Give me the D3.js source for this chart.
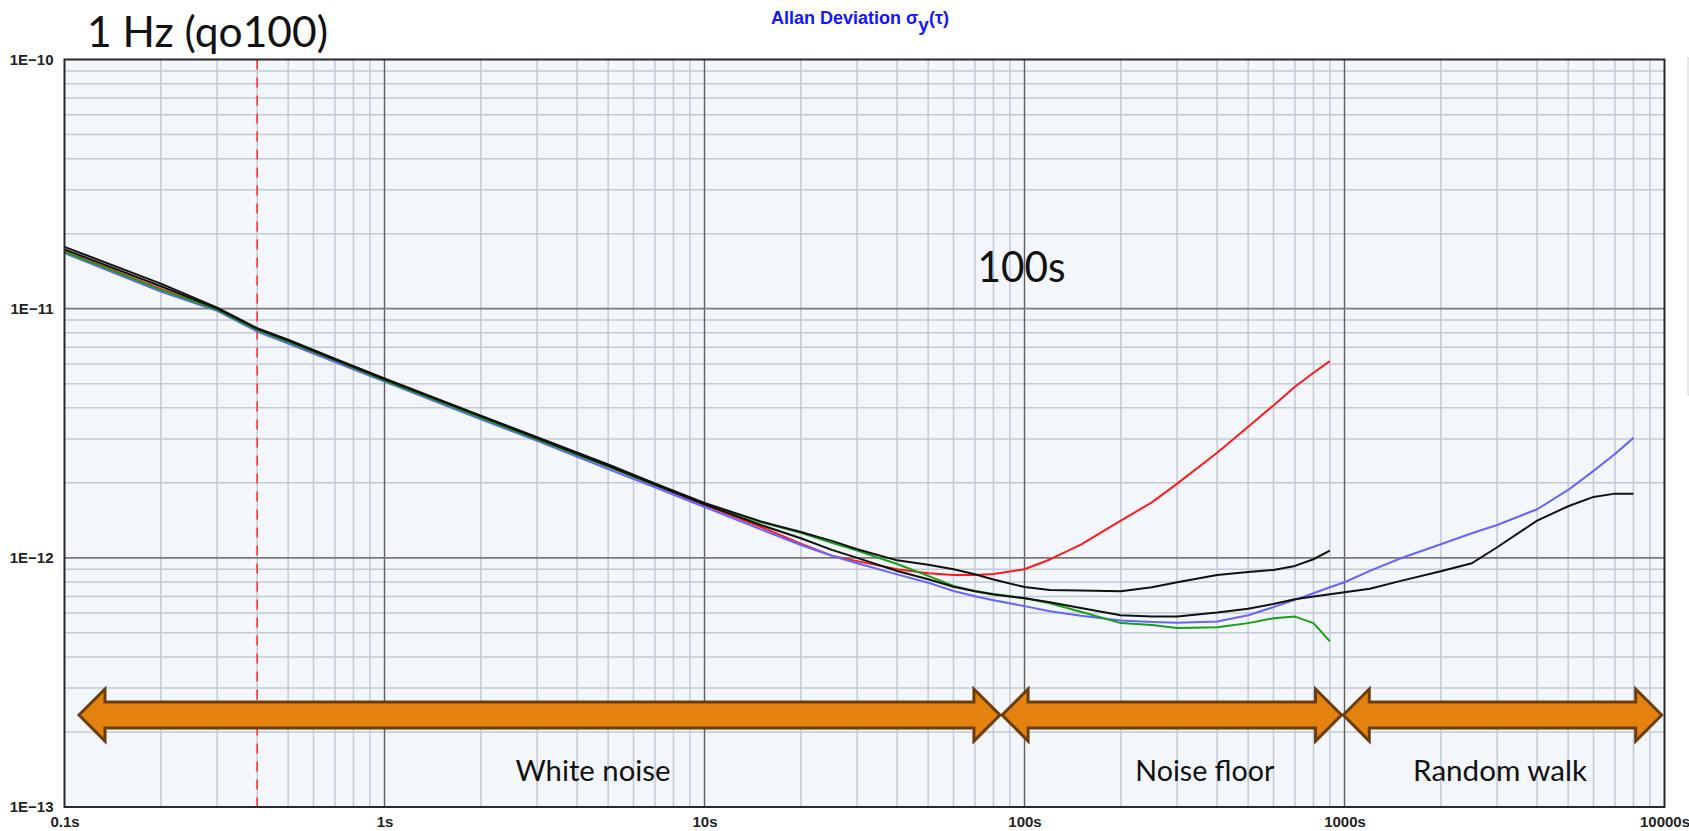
<!DOCTYPE html>
<html><head><meta charset="utf-8">
<script src="https://cdn.jsdelivr.net/npm/d3@7"></script>
<style>
html,body{margin:0;padding:0;background:#fff;overflow:hidden;}
</style></head><body>
<svg id="chart" width="1689" height="831"></svg>
<script>
// ---------- data ----------
const tausShort = [0.1,0.2,0.3,0.4,0.5,0.7,1,2,3,5,7,10,15,20,25,30,40,50,60,70,80,100,120,150,200,250,300,400,500,600,700,800,900];
const tausLong = tausShort.concat([1000,1200,1500,2000,2500,3000,4000,5000,6000,7000,8000]);

const sigmaRed = [1.70e-11,1.20e-11,9.9e-12,8.2e-12,7.35e-12,6.2e-12,5.15e-12,3.68e-12,3.0e-12,2.33e-12,1.96e-12,1.63e-12,1.33e-12,1.14e-12,1.02e-12,9.7e-13,9.0e-13,8.67e-13,8.54e-13,8.54e-13,8.62e-13,9.0e-13,9.85e-13,1.13e-12,1.41e-12,1.67e-12,1.985e-12,2.64e-12,3.36e-12,4.09e-12,4.86e-12,5.53e-12,6.16e-12];
const sigmaBlackA = [1.77e-11,1.26e-11,1.01e-11,8.35e-12,7.5e-12,6.3e-12,5.25e-12,3.72e-12,3.05e-12,2.37e-12,1.99e-12,1.66e-12,1.40e-12,1.27e-12,1.17e-12,1.083e-12,9.77e-13,9.39e-13,9.0e-13,8.59e-13,8.18e-13,7.64e-13,7.43e-13,7.39e-13,7.34e-13,7.62e-13,7.98e-13,8.54e-13,8.78e-13,8.94e-13,9.28e-13,9.87e-13,1.069e-12];
const sigmaGreen = [1.69e-11,1.19e-11,9.9e-12,8.2e-12,7.35e-12,6.2e-12,5.15e-12,3.65e-12,2.98e-12,2.32e-12,1.96e-12,1.65e-12,1.39e-12,1.26e-12,1.148e-12,1.069e-12,9.45e-13,8.46e-13,7.71e-13,7.36e-13,7.16e-13,6.9e-13,6.57e-13,6.08e-13,5.47e-13,5.38e-13,5.23e-13,5.27e-13,5.47e-13,5.72e-13,5.81e-13,5.47e-13,4.62e-13];
const sigmaBlue = [1.67e-11,1.17e-11,9.8e-12,8.1e-12,7.25e-12,6.1e-12,5.1e-12,3.6e-12,2.95e-12,2.27e-12,1.92e-12,1.6e-12,1.30e-12,1.126e-12,1.02e-12,9.51e-13,8.58e-13,7.95e-13,7.36e-13,7.01e-13,6.76e-13,6.4e-13,6.1e-13,5.85e-13,5.6e-13,5.53e-13,5.49e-13,5.55e-13,5.88e-13,6.34e-13,6.78e-13,7.21e-13,7.62e-13,7.98e-13,8.86e-13,9.96e-13,1.134e-12,1.255e-12,1.355e-12,1.567e-12,1.873e-12,2.233e-12,2.61e-12,3.03e-12];
const sigmaBlackB = [1.73e-11,1.23e-11,1.0e-11,8.3e-12,7.45e-12,6.25e-12,5.2e-12,3.7e-12,3.02e-12,2.34e-12,1.97e-12,1.64e-12,1.355e-12,1.198e-12,1.076e-12,1.0e-12,8.86e-13,8.21e-13,7.66e-13,7.35e-13,7.12e-13,6.89e-13,6.64e-13,6.29e-13,5.88e-13,5.81e-13,5.81e-13,6.03e-13,6.25e-13,6.53e-13,6.82e-13,6.99e-13,7.14e-13,7.28e-13,7.52e-13,8.08e-13,8.84e-13,9.51e-13,1.103e-12,1.41e-12,1.611e-12,1.756e-12,1.81e-12,1.81e-12];

const xTickValues = [0.1,1,10,100,1000,10000];
const xTickLabels = ["0.1s","1s","10s","100s","1000s","10000s"];
const yTickValues = [1e-10,1e-11,1e-12,1e-13];
const yTickLabels = ["1E\u221210","1E\u221211","1E\u221212","1E\u221213"];

const markerTau = 0.4;
const regionNames = ["White noise","Noise floor","Random walk"];
const regionFrom = [0.111, 85.1, 991];
const regionTo = [83.8, 979, 9800];
const regionLabelTau = [4.48, 366, 3063];
const arrowSigma = 2.34e-13;
const regionLabelSigma = 1.27e-13;
const noteText = "100s";
const noteTau = 97.9;
const noteSigma = 1.28e-11;
const chartTitle = "1 Hz (qo100)";

// ---------- layout ----------
const svg = d3.select("#chart");
const L = 64.5, R = 1664.5, T = 59.5, B = 807;
const x = d3.scaleLog().domain([0.1, 10000]).range([L, R]);
const y = d3.scaleLog().domain([1e-13, 1e-10]).range([B, T]);

// legend box edge (cut off at right)
svg.append("rect").attr("x",1688).attr("y",58).attr("width",30).attr("height",337)
  .attr("fill","#fff").attr("stroke","#cfcfcf").attr("stroke-width",1);

// plot background
svg.append("rect").attr("x",L).attr("y",T).attr("width",R-L).attr("height",B-T).attr("fill","#f3f6fb");

// minor grid
const xMinor = [], yMinor = [];
[0.1,1,10,100,1000].forEach(d => { for (let k=2;k<=9;k++) xMinor.push(d*k); });
[1e-13,1e-12,1e-11].forEach(d => { for (let k=2;k<=9;k++) yMinor.push(d*k); });
const grid = svg.append("g");
grid.selectAll(".vx").data(xMinor).join("line")
  .attr("x1",d=>x(d)).attr("x2",d=>x(d)).attr("y1",T).attr("y2",B)
  .attr("stroke","#c3cad6").attr("stroke-width",1.5);
grid.selectAll(".hy").data(yMinor).join("line")
  .attr("y1",d=>y(d)).attr("y2",d=>y(d)).attr("x1",L).attr("x2",R)
  .attr("stroke","#c3cad6").attr("stroke-width",1.5);
// major grid
grid.selectAll(".vX").data(xTickValues.slice(1,-1)).join("line")
  .attr("x1",d=>x(d)).attr("x2",d=>x(d)).attr("y1",T).attr("y2",B)
  .attr("stroke","#5e5e5e").attr("stroke-width",1.4);
grid.selectAll(".hY").data(yTickValues.slice(1,-1)).join("line")
  .attr("y1",d=>y(d)).attr("y2",d=>y(d)).attr("x1",L).attr("x2",R)
  .attr("stroke","#7a7a7a").attr("stroke-width",1.8);

// red dashed marker
svg.append("line").attr("x1",x(markerTau)).attr("x2",x(markerTau)).attr("y1",T).attr("y2",B)
  .attr("stroke","#ff2a2a").attr("stroke-width",1.5).attr("stroke-dasharray","10,8");

// curves
const line = d3.line().x(d=>x(d[0])).y(d=>y(d[1]));
const series = [
  {taus: tausShort, vals: sigmaRed, color: "#ff1a1a"},
  {taus: tausLong, vals: sigmaBlue, color: "#6464ff"},
  {taus: tausShort, vals: sigmaGreen, color: "#16a016"},
  {taus: tausLong, vals: sigmaBlackB, color: "#111111"},
  {taus: tausShort, vals: sigmaBlackA, color: "#111111"}
];
series.forEach(s => {
  svg.append("path").datum(s.taus.map((t,i)=>[t, s.vals[i]]))
    .attr("d", line).attr("fill","none").attr("stroke", s.color)
    .attr("stroke-width", 2).attr("stroke-linejoin","round");
});

// arrows
function arrowPath(x1, x2, yc) {
  const hl = 26, hh = 26, sh = 13;
  return `M${x1},${yc} L${x1+hl},${yc-hh} L${x1+hl},${yc-sh} L${x2-hl},${yc-sh} L${x2-hl},${yc-hh} L${x2},${yc} L${x2-hl},${yc+hh} L${x2-hl},${yc+sh} L${x1+hl},${yc+sh} L${x1+hl},${yc+hh} Z`;
}
regionNames.forEach((name, i) => {
  svg.append("path").attr("d", arrowPath(x(regionFrom[i]), x(regionTo[i]), y(arrowSigma)))
    .attr("fill","#e4820f").attr("stroke","#6b3d0a").attr("stroke-width",3).attr("stroke-linejoin","miter");
});
const labelWidths = [155, 139, 174];
regionNames.forEach((name, i) => {
  svg.append("text").attr("x", x(regionLabelTau[i])).attr("y", y(regionLabelSigma))
    .attr("text-anchor","middle").attr("font-family","Lato, 'Open Sans', sans-serif")
    .attr("font-size",29).attr("fill","#111")
    .attr("textLength", labelWidths[i]).attr("lengthAdjust","spacingAndGlyphs")
    .text(name);
});

// note "100s"
svg.append("text").attr("x", x(noteTau)).attr("y", y(noteSigma))
  .attr("text-anchor","middle").attr("font-family","Lato, 'Open Sans', sans-serif")
  .attr("font-size",42).attr("fill","#111")
  .attr("textLength",88).attr("lengthAdjust","spacingAndGlyphs").text(noteText);

// frame
svg.append("rect").attr("x",L).attr("y",T).attr("width",R-L).attr("height",B-T)
  .attr("fill","none").attr("stroke","#2a2a2a").attr("stroke-width",2);

// axes
const xAxis = d3.axisBottom(x).tickValues(xTickValues).tickFormat((d,i)=>xTickLabels[i]).tickSize(0).tickPadding(9);
const gx = svg.append("g").attr("transform",`translate(0,${B})`).call(xAxis);
gx.select(".domain").remove();
gx.selectAll("text").attr("font-family","'Liberation Sans', Arial, sans-serif").attr("font-weight","bold")
  .attr("font-size",15).attr("fill","#222");

const yAxis = d3.axisLeft(y).tickValues(yTickValues).tickFormat((d,i)=>yTickLabels[i]).tickSize(0).tickPadding(11);
const gy = svg.append("g").attr("transform",`translate(${L},0)`).call(yAxis);
gy.select(".domain").remove();
gy.selectAll("text").attr("font-family","'Liberation Sans', Arial, sans-serif").attr("font-weight","bold")
  .attr("font-size",15).attr("fill","#222");

// titles
svg.append("text").attr("x",87).attr("y",46.5).attr("font-family","Lato, 'Open Sans', sans-serif")
  .attr("font-size",42).attr("fill","#111").attr("textLength",241).attr("lengthAdjust","spacingAndGlyphs")
  .text(chartTitle);

const t = svg.append("text").attr("x",771).attr("y",24).attr("font-family","'Liberation Sans', Arial, sans-serif")
  .attr("font-weight","bold").attr("font-size",18).attr("fill","#1414ff");
t.append("tspan").text("Allan Deviation \u03c3");
t.append("tspan").attr("dy",7).attr("font-size",19).text("y");
t.append("tspan").attr("dy",-7).text("(\u03c4)");
</script>
</body></html>
